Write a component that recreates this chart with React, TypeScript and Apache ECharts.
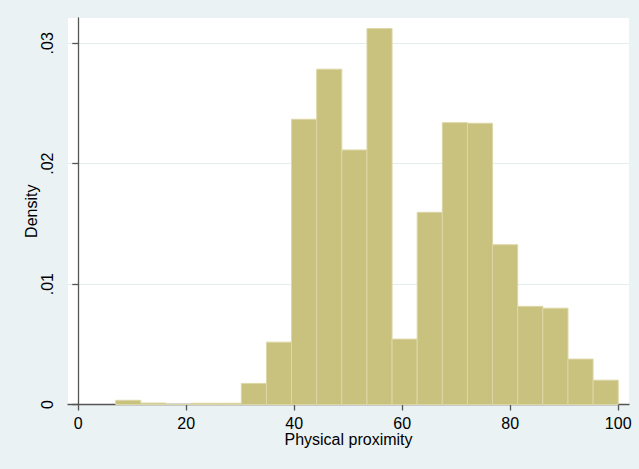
import React, { useEffect, useRef } from "react";
import * as echarts from "echarts";

// Histogram bin edges (20 bins) for "Physical proximity"
const binEdges = [
  6.93, 11.58, 16.24, 20.89, 25.54, 30.2, 34.85, 39.5, 44.16, 48.81, 53.47,
  58.12, 62.77, 67.43, 72.08, 76.73, 81.39, 86.04, 90.7, 95.35, 100,
];
// Density per bin
const densities = [
  0.00035, 0.00012, 0.0, 0.0001, 0.0001, 0.00175, 0.00518, 0.02369, 0.02785,
  0.02114, 0.03122, 0.00543, 0.01596, 0.02341, 0.02336, 0.01327, 0.00815,
  0.008, 0.00377, 0.00202,
];
const xTicks = [0, 20, 40, 60, 80, 100];
const yTicks = [0, 0.01, 0.02, 0.03];

const FONT = "'Liberation Sans', Arial, Helvetica, sans-serif";

export default function App() {
  const ref = useRef<HTMLDivElement>(null);
  useEffect(() => {
    document.body.style.margin = "0";
    const chart = echarts.init(ref.current!, null, { renderer: "svg" });
    const data = densities.map((d, i) => [binEdges[i], binEdges[i + 1], d]);
    chart.setOption({
      animation: false,
      backgroundColor: "#eaf2f3",
      textStyle: { fontFamily: FONT },
      grid: {
        left: 68,
        right: 10,
        top: 18,
        bottom: 64.5,
        show: true,
        backgroundColor: "#ffffff",
        borderWidth: 0,
      },
      xAxis: {
        type: "value",
        min: -1.9,
        max: 102,
        name: "Physical proximity",
        nameLocation: "middle",
        nameGap: 27,
        nameMoveOverlap: false,
        nameTextStyle: { color: "#000", fontSize: 16, lineHeight: 15, fontFamily: FONT },
        axisLine: { show: true, lineStyle: { color: "#555", width: 1.3 } },
        axisTick: {
          show: true,
          length: 6,
          customValues: xTicks,
          lineStyle: { color: "#555", width: 1.3 },
        },
        axisLabel: {
          customValues: xTicks,
          color: "#000",
          fontSize: 16,
          lineHeight: 15,
          fontFamily: FONT,
          margin: 11,
        },
        splitLine: { show: false },
      },
      yAxis: {
        type: "value",
        min: 0,
        max: 0.0321,
        name: "Density",
        nameLocation: "middle",
        nameGap: 29,
        nameMoveOverlap: false,
        nameRotate: 90,
        nameTextStyle: { color: "#000", fontSize: 16, fontFamily: FONT },
        axisLine: { show: true, lineStyle: { color: "#555", width: 1.3 } },
        axisTick: {
          show: true,
          length: 6,
          customValues: yTicks,
          lineStyle: { color: "#555", width: 1.3 },
        },
        axisLabel: {
          customValues: yTicks,
          rotate: 90,
          color: "#000",
          fontSize: 16,
          fontFamily: FONT,
          margin: 13,
          formatter: (v: number) => (v === 0 ? "0" : String(v).replace(/^0/, "")),
        },
        splitLine: { show: true, lineStyle: { color: "#e2eded", width: 1 } },
      },
      series: [
        {
          type: "custom",
          data,
          encode: { x: [0, 1], y: 2 },
          renderItem: (params: any, api: any) => {
            const x0 = api.value(0);
            const x1 = api.value(1);
            const y = api.value(2);
            const p0 = api.coord([x0, y]);
            const p1 = api.coord([x1, 0]);
            return {
              type: "rect",
              shape: {
                x: p0[0],
                y: p0[1],
                width: p1[0] - p0[0],
                height: p1[1] - p0[1],
              },
              style: { fill: "#c9c17e", stroke: "#ddd7a6", lineWidth: 1 },
            };
          },
        },
      ],
    });
    return () => chart.dispose();
  }, []);
  return <div ref={ref} style={{ width: 639, height: 469 }} />;
}
